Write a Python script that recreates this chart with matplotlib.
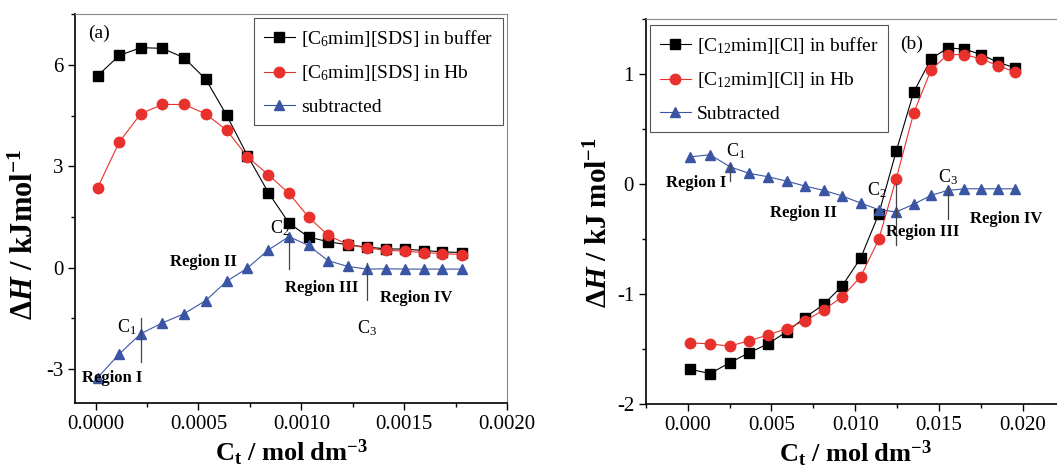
import matplotlib
matplotlib.use("Agg")
import matplotlib.pyplot as plt
from matplotlib.ticker import MultipleLocator, FormatStrFormatter

plt.rcParams['font.family'] = ['Liberation Serif', 'DejaVu Serif']
plt.rcParams['mathtext.fontset'] = 'custom'
plt.rcParams['mathtext.rm'] = 'Liberation Serif'
plt.rcParams['mathtext.it'] = 'Liberation Serif:italic'
plt.rcParams['mathtext.bf'] = 'Liberation Serif:bold'
plt.rcParams['mathtext.bfit'] = 'Liberation Serif:italic:bold'
plt.rcParams['axes.unicode_minus'] = False

# panel (a): [C6mim][SDS]
conc_a = [0.00001, 0.000115, 0.00022, 0.000325, 0.00043, 0.000535, 0.000637, 0.000738,
          0.00084, 0.00094, 0.001035, 0.00113, 0.001225, 0.00132, 0.00141, 0.001505,
          0.001595, 0.001685, 0.00178]
buffer_a = [5.68, 6.28, 6.51, 6.49, 6.21, 5.58, 4.51, 3.32, 2.22, 1.32, 0.91, 0.77,
            0.68, 0.61, 0.56, 0.55, 0.51, 0.47, 0.45]
hb_a = [2.37, 3.72, 4.56, 4.83, 4.83, 4.55, 4.07, 3.28, 2.75, 2.20, 1.50, 0.96,
        0.69, 0.58, 0.52, 0.49, 0.45, 0.42, 0.39]
sub_a = [-3.25, -2.55, -1.95, -1.63, -1.36, -0.97, -0.40, -0.01, 0.53, 0.92, 0.66,
         0.21, 0.04, -0.04, -0.03, -0.04, -0.04, -0.04, -0.04]

# panel (b): [C12mim][Cl]
conc_b = [0.00015, 0.00133, 0.00252, 0.00367, 0.00478, 0.0059, 0.0070, 0.00813,
          0.00923, 0.01032, 0.0114, 0.01244, 0.01349, 0.01452, 0.01551, 0.01651,
          0.01752, 0.01851, 0.01954]
buffer_b = [-1.68, -1.72, -1.62, -1.53, -1.45, -1.34, -1.21, -1.09, -0.92, -0.67,
            -0.27, 0.30, 0.84, 1.14, 1.24, 1.23, 1.18, 1.11, 1.06]
hb_b = [-1.44, -1.45, -1.47, -1.42, -1.37, -1.31, -1.24, -1.14, -1.02, -0.84,
        -0.50, 0.05, 0.65, 1.04, 1.18, 1.18, 1.14, 1.08, 1.02]
sub_b = [0.25, 0.27, 0.16, 0.10, 0.07, 0.03, -0.015, -0.055, -0.105, -0.17,
         -0.23, -0.25, -0.18, -0.10, -0.055, -0.04, -0.04, -0.04, -0.04]

BLACK = 'black'
RED = '#e8302c'
BLUE = '#3b55a4'

fig = plt.figure(figsize=(10.57, 4.73), dpi=100)
ax1 = fig.add_axes([0.071, 0.148, 0.4087, 0.822])
ax2 = fig.add_axes([0.611, 0.145, 0.3963, 0.814])


def style_axes(ax):
    for s in ['top', 'right']:
        ax.spines[s].set_color('#888888')
        ax.spines[s].set_linewidth(0.8)
    for s in ['left', 'bottom']:
        ax.spines[s].set_linewidth(1.2)
    ax.tick_params(which='both', direction='out', top=False, right=False,
                   labelsize=15, width=1.0)
    ax.tick_params(which='major', length=5)
    ax.tick_params(which='minor', length=3)


legkw = dict(fontsize=14, handlelength=1.6, handletextpad=0.3, borderpad=0.5,
             labelspacing=0.75, fancybox=False, framealpha=1, edgecolor='#555555',
             borderaxespad=0)

ax1.plot(conc_a, buffer_a, '-s', color=BLACK, lw=0.8, ms=6.5,
         label='[C$_6$mim][SDS] in buffer')
ax1.plot(conc_a, hb_a, '-o', color=RED, lw=0.8, ms=7.5,
         label='[C$_6$mim][SDS] in Hb')
ax1.plot(conc_a, sub_a, '-^', color=BLUE, lw=0.8, ms=7.5, label='subtracted')
ax1.set_xlim(-0.0001, 0.0020)
ax1.set_ylim(-4, 7.5)
ax1.xaxis.set_major_locator(MultipleLocator(0.0005))
ax1.xaxis.set_minor_locator(MultipleLocator(0.00025))
ax1.xaxis.set_major_formatter(FormatStrFormatter('%.4f'))
ax1.yaxis.set_major_locator(MultipleLocator(3))
ax1.yaxis.set_minor_locator(MultipleLocator(1.5))
style_axes(ax1)
ax1.set_xlabel(r'$\mathbf{C_t\ /\ mol\ dm^{-3}}$', fontsize=19, labelpad=3)
ax1.set_ylabel(r'$\mathbf{\Delta}\mathbfit{H}\mathbf{\ /\ kJmol^{-1}}$', fontsize=22)
ax1.yaxis.set_label_coords(-0.081, 0.434)
leg1 = ax1.legend(loc='upper right', bbox_to_anchor=(0.99, 0.99), **legkw)
leg1.get_frame().set_linewidth(0.8)
ax1.text(0.03, 0.95, '(a)', transform=ax1.transAxes, fontsize=14, va='center')

# annotations (a)
ax1.plot([0.00022, 0.00022], [-1.5, -2.8], color='#444444', lw=0.9)
ax1.plot([0.00094, 0.00094], [0.9, -0.05], color='#444444', lw=0.9)
ax1.plot([0.00132, 0.00132], [0.15, -0.95], color='#444444', lw=0.9)
ax1.text(0.00015, -1.75, 'C$_1$', fontsize=13, ha='center', va='center')
ax1.text(0.000895, 1.18, 'C$_2$', fontsize=13, ha='center', va='center')
ax1.text(0.00132, -1.8, 'C$_3$', fontsize=13, ha='center', va='center')
kw = dict(fontsize=12, fontweight='bold', ha='center', va='center')
ax1.text(0.00008, -3.25, 'Region I', **kw)
ax1.text(0.000526, 0.18, 'Region II', **kw)
ax1.text(0.0011, -0.6, 'Region III', **kw)
ax1.text(0.00156, -0.88, 'Region IV', **kw)

ax2.plot(conc_b, buffer_b, '-s', color=BLACK, lw=0.8, ms=6.5,
         label='[C$_{12}$mim][Cl] in buffer')
ax2.plot(conc_b, hb_b, '-o', color=RED, lw=0.8, ms=7.5,
         label='[C$_{12}$mim][Cl] in Hb')
ax2.plot(conc_b, sub_b, '-^', color=BLUE, lw=0.8, ms=7.5, label='Subtracted')
ax2.set_xlim(-0.0025, 0.0225)
ax2.set_ylim(-2, 1.5)
ax2.xaxis.set_major_locator(MultipleLocator(0.005))
ax2.xaxis.set_minor_locator(MultipleLocator(0.0025))
ax2.xaxis.set_major_formatter(FormatStrFormatter('%.3f'))
ax2.yaxis.set_major_locator(MultipleLocator(1))
ax2.yaxis.set_minor_locator(MultipleLocator(0.5))
style_axes(ax2)
ax2.spines['right'].set_visible(False)
ax2.set_xlabel(r'$\mathbf{C_t\ /\ mol\ dm^{-3}}$', fontsize=19, labelpad=3)
ax2.set_ylabel(r'$\mathbf{\Delta}\mathbfit{H}\mathbf{\ /\ kJ\ mol^{-1}}$', fontsize=21)
ax2.yaxis.set_label_coords(-0.078, 0.471)
leg2 = ax2.legend(loc='upper left', bbox_to_anchor=(0.01, 0.985), **legkw)
leg2.get_frame().set_linewidth(0.8)
ax2.text(0.607, 0.935, '(b)', transform=ax2.transAxes, fontsize=14, va='center')

# annotations (b)
ax2.plot([0.00252, 0.00252], [0.18, 0.03], color='#444444', lw=0.9)
ax2.plot([0.01244, 0.01244], [0.0, -0.55], color='#444444', lw=0.9)
ax2.plot([0.01551, 0.01551], [-0.03, -0.31], color='#444444', lw=0.9)
ax2.text(0.0029, 0.30, 'C$_1$', fontsize=13, ha='center', va='center')
ax2.text(0.0113, -0.05, 'C$_2$', fontsize=13, ha='center', va='center')
ax2.text(0.01555, 0.07, 'C$_3$', fontsize=13, ha='center', va='center')
ax2.text(0.0005, 0.01, 'Region I', **kw)
ax2.text(0.0069, -0.26, 'Region II', **kw)
ax2.text(0.0140, -0.43, 'Region III', **kw)
ax2.text(0.0190, -0.31, 'Region IV', **kw)

fig.savefig('out.png', dpi=100)
